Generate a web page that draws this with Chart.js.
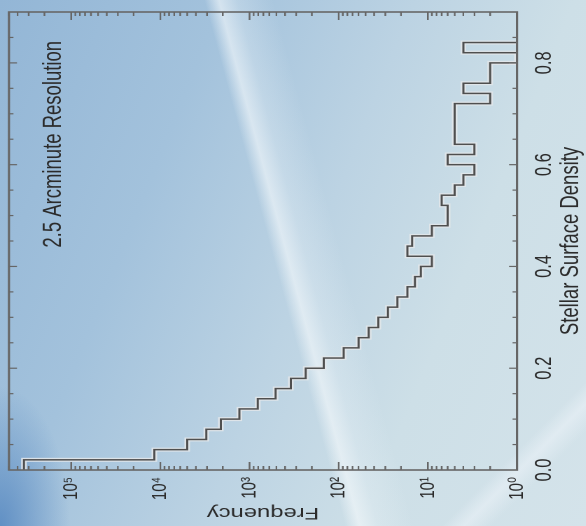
<!DOCTYPE html>
<html>
<head>
<meta charset="utf-8">
<script src="https://cdn.jsdelivr.net/npm/chart.js@4.4.0/dist/chart.umd.min.js"></script>
<style>
  html, body { margin: 0; width: 586px; height: 526px; overflow: hidden; }
  body {
    position: relative;
    background:
      linear-gradient(75deg, rgba(255,255,255,0) 47.5%, rgba(246,250,252,0.6) 49.5%, rgba(236,244,248,0.3) 52%, rgba(255,255,255,0) 57%),
      linear-gradient(135deg, rgba(255,255,255,0) 87%, rgba(232,240,246,0.65) 89%, rgba(255,255,255,0) 91.5%),
      radial-gradient(ellipse 70px 140px at 0px 526px, rgba(85,135,192,0.85), rgba(85,135,192,0) 100%),
      linear-gradient(112deg, #93b6d6 0%, #a3c2dc 28%, #bcd3e3 52%, #cddfe7 72%, #d4e3ea 100%);
  }
  #turn {
    position: absolute; left: 0; top: 0; width: 526px; height: 419px;
    transform-origin: 0 0;
    transform: translate(0, 526px) rotate(-90deg) scale(1, 1.4);
  }
</style>
</head>
<body>
<div id="turn"><canvas id="hist" width="526" height="419"></canvas></div>
<script>
// left edge of every 0.02 wide density bin, and the count in it
const binStart = [0.00, 0.02, 0.04, 0.06, 0.08, 0.10, 0.12, 0.14, 0.16, 0.18,
                  0.20, 0.22, 0.24, 0.26, 0.28, 0.30, 0.32, 0.34, 0.36, 0.38,
                  0.40, 0.42, 0.44, 0.46, 0.48, 0.50, 0.52, 0.54, 0.56, 0.58,
                  0.60, 0.62, 0.64, 0.66, 0.68, 0.70, 0.72, 0.74, 0.76, 0.78,
                  0.80, 0.82];
const binWidth = 0.02;
const counts = [340000, 11700, 5000, 3050, 2100, 1300, 810, 510, 345, 235,
                147, 88, 60, 46, 36, 28, 22, 17, 14, 12,
                9, 17, 15, 9, 6, 6, 7, 5, 4, 3,
                6, 3, 5, 5, 5, 5, 2, 4, 2, 2,
                1, 4];
const densityTicks = [0.0, 0.2, 0.4, 0.6, 0.8];
const densityLabels = ['0.0', '0.2', '0.4', '0.6', '0.8'];
const freqTicks = [1, 10, 100, 1000, 10000, 100000];
const freqLabels = ['10⁰', '10¹', '10²', '10³', '10⁴', '10⁵'];

const font = '"Liberation Sans", Arial, "DejaVu Sans", sans-serif';
const ink = '#2b2b2b';

// histogram outline: both edges of each bin, then back down to the axis
const outline = [];
binStart.forEach((x0, i) => {
  outline.push({ x: x0, y: counts[i] });
  outline.push({ x: x0 + binWidth, y: counts[i] });
});
outline.push({ x: binStart[binStart.length - 1] + binWidth, y: 1 });

// box with inward ticks on all four sides + caption inside
const frame = {
  id: 'frame',
  afterDatasetsDraw(chart) {
    const { ctx, chartArea: a, scales: { x, y } } = chart;
    ctx.save();
    ctx.strokeStyle = '#666';
    ctx.lineWidth = 1.6;
    ctx.strokeRect(a.left, a.top, a.right - a.left, a.bottom - a.top);
    ctx.lineWidth = 1.2;
    ctx.beginPath();
    for (let k = 1; k * 0.05 < x.max; k++) {
      const px = x.getPixelForValue(k * 0.05);
      const len = k % 4 === 0 ? 5.7 : 3.2;
      ctx.moveTo(px, a.bottom); ctx.lineTo(px, a.bottom - len);
      ctx.moveTo(px, a.top); ctx.lineTo(px, a.top + len);
    }
    for (let e = 0; e <= 5; e++) {
      for (let m = 1; m <= 9; m++) {
        const v = m * Math.pow(10, e);
        if (v > y.max) break;
        const py = y.getPixelForValue(v);
        const len = m === 1 ? 8 : 4;
        ctx.moveTo(a.left, py); ctx.lineTo(a.left + len, py);
        ctx.moveTo(a.right, py); ctx.lineTo(a.right - len, py);
      }
    }
    ctx.stroke();
    ctx.fillStyle = ink;
    ctx.font = '18.5px ' + font;
    ctx.textBaseline = 'middle';
    ctx.fillText('2.5 Arcminute Resolution', x.getPixelForValue(0.437), a.top + 32.2);
    ctx.restore();
  }
};

const ctx = document.getElementById('hist');
const chart = new Chart(ctx, {
  type: 'line',
  data: {
    datasets: [{
      data: outline,
      borderColor: '#4f4f4f',
      borderWidth: 1.5,
      pointRadius: 0,
    },
    {
      data: outline,
      borderColor: 'rgba(225,230,233,0.9)',
      borderWidth: 4,
      pointRadius: 0,
    }]
  },
  options: {
    responsive: false,
    animation: false,
    devicePixelRatio: 2,
    layout: { padding: { top: 6.4, right: 12, left: 0, bottom: 0 } },
    plugins: { legend: { display: false }, tooltip: { enabled: false } },
    scales: {
      x: {
        type: 'linear',
        min: 0,
        max: 0.9,
        grid: { display: false, drawTicks: false },
        border: { display: false },
        afterBuildTicks: s => { s.ticks = densityTicks.map(v => ({ value: v })); },
        ticks: {
          padding: 10,
          maxRotation: 0,
          autoSkip: false,
          color: ink,
          font: { family: font, size: 16.5 },
          callback: v => densityLabels[densityTicks.indexOf(v)]
        },
        title: {
          display: true,
          text: 'Stellar Surface Density',
          color: ink,
          font: { family: font, size: 18.5 },
          padding: { top: 0, bottom: 0 }
        },
        afterFit: s => { s.height = 49.7; }
      },
      y: {
        type: 'logarithmic',
        min: 1,
        max: 500000,
        grid: { display: false, drawTicks: false },
        border: { display: false },
        afterBuildTicks: s => { s.ticks = freqTicks.map(v => ({ value: v })); },
        ticks: {
          padding: 7,
          autoSkip: false,
          color: ink,
          font: { family: font, size: 15 },
          callback: v => freqLabels[freqTicks.indexOf(v)]
        },
        title: {
          display: true,
          text: 'Frequency',
          color: ink,
          font: { family: font, size: 17 },
          padding: { top: 3, bottom: 0 }
        },
        afterFit: s => { s.width = 56; s.paddingTop = 0; s.paddingBottom = 0; }
      }
    }
  },
  plugins: [frame]
});
</script>
</body>
</html>
